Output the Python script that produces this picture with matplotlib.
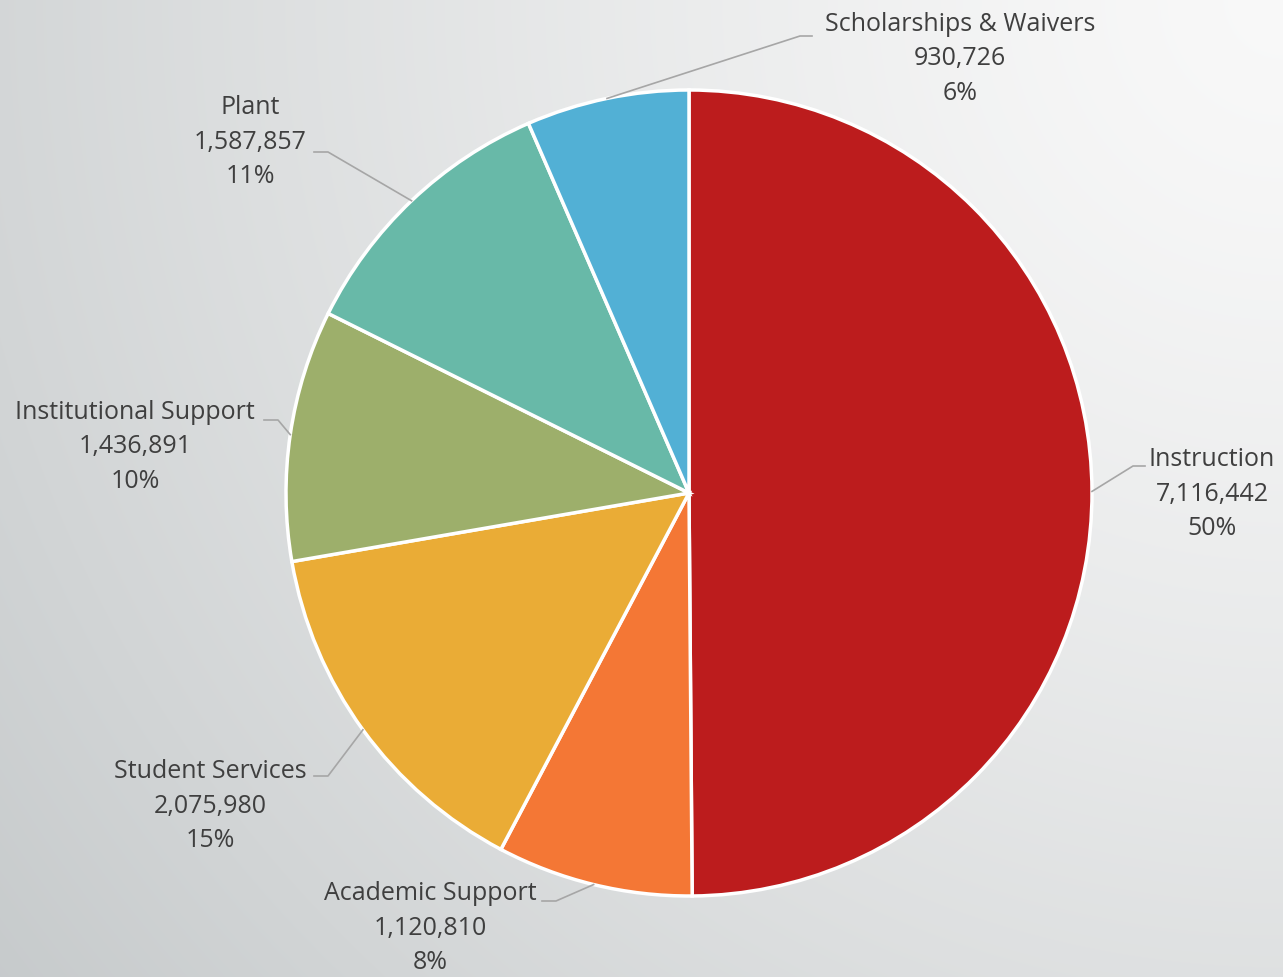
import numpy as np
import matplotlib
matplotlib.use("Agg")
import matplotlib.pyplot as plt

categories = ["Instruction", "Academic Support", "Student Services",
              "Institutional Support", "Plant", "Scholarships & Waivers"]
values = [7116442, 1120810, 2075980, 1436891, 1587857, 930726]
pct_labels = ["50%", "8%", "15%", "10%", "11%", "6%"]
colors = ["#BC1C1D", "#F47735", "#EAAC36", "#9DAF6B", "#68B9A8", "#52B0D5"]

W, H = 1283, 977
fig = plt.figure(figsize=(W / 100, H / 100), dpi=100)
ax = fig.add_axes([0, 0, 1, 1])
ax.set_xlim(0, W); ax.set_ylim(0, H)
ax.set_aspect("equal"); ax.axis("off")

# radial background: light at top right, grey toward bottom left
yy, xx = np.mgrid[0:H, 0:W]
d = np.hypot(xx - W, yy - H) / np.hypot(W, H)
g = np.clip(d, 0, 1)
top = np.array([0.975, 0.975, 0.975]); bot = np.array([0.78, 0.795, 0.80])
img = top + (bot - top) * g[..., None] ** 1.3
ax.imshow(img, extent=[0, W, 0, H], origin="lower", zorder=0)

cx, cy, r = 689, 484, 403
wedges, _ = ax.pie(values, colors=colors, startangle=90, counterclock=False,
                   center=(cx, cy), radius=r, frame=True,
                   wedgeprops=dict(edgecolor="white", linewidth=2.5))
for w in wedges:
    w.set_zorder(2)
ax.set_xlim(0, W); ax.set_ylim(0, H); ax.axis("off")

# elbow point (pixel space, from top), side of text, text centre x, text top y
layout = [
    ((1133, 466), "left", 1212, 447),
    ((556, 901), "right", 430, 881),
    ((328, 776), "right", 210, 759),
    ((278, 420), "right", 135, 400),
    ((328, 152), "right", 250, 95),
    ((800, 36), "left", 960, 12),
]
lc = "#a6a6a6"
tc = "#3f3f3f"
for w, v, p, (elbow, side, tx, ty), name in zip(wedges, values, pct_labels, layout, categories):
    ang = np.deg2rad((w.theta1 + w.theta2) / 2)
    sx, sy = cx + r * np.cos(ang), cy + r * np.sin(ang)
    ey = H - elbow[1]
    ex = elbow[0] + (12 if side == "left" else -14)
    ax.plot([sx, elbow[0], ex], [sy, ey, ey], color=lc, lw=1.2, zorder=3)
    txt = f"{name}\n{v:,}\n{p}"
    ax.text(tx, H - ty, txt, ha="center", va="top", fontsize=18, color=tc,
            family="Open Sans", linespacing=1.5, zorder=4)

fig.savefig("out.png", dpi=100)
